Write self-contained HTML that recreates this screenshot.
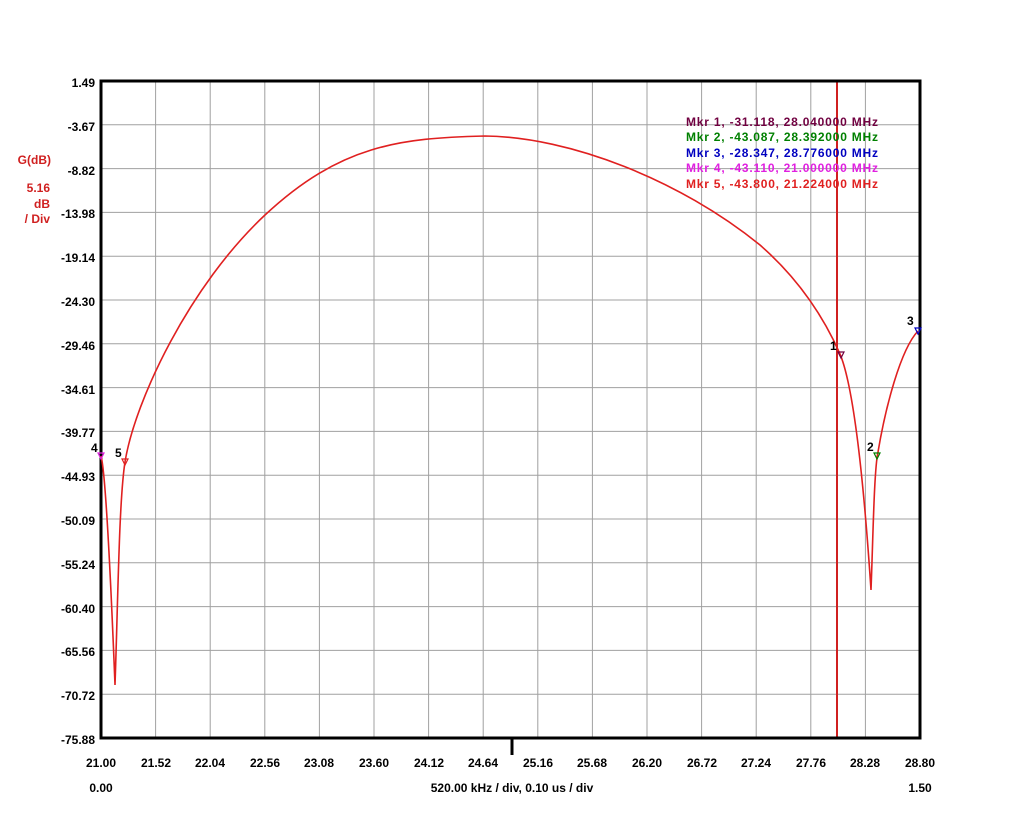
<!DOCTYPE html><html><head><style>body{margin:0;background:#fff}svg{display:block}text{font-family:"Liberation Sans",sans-serif;font-weight:bold;font-size:12px}</style></head><body>
<svg width="1024" height="821" xmlns="http://www.w3.org/2000/svg">
<g stroke="#a0a0a0" stroke-width="1">
<line x1="155.6" y1="81" x2="155.6" y2="738"/><line x1="210.2" y1="81" x2="210.2" y2="738"/><line x1="264.8" y1="81" x2="264.8" y2="738"/><line x1="319.4" y1="81" x2="319.4" y2="738"/><line x1="374" y1="81" x2="374" y2="738"/><line x1="428.6" y1="81" x2="428.6" y2="738"/><line x1="483.2" y1="81" x2="483.2" y2="738"/><line x1="537.8" y1="81" x2="537.8" y2="738"/><line x1="592.4" y1="81" x2="592.4" y2="738"/><line x1="647" y1="81" x2="647" y2="738"/><line x1="701.6" y1="81" x2="701.6" y2="738"/><line x1="756.2" y1="81" x2="756.2" y2="738"/><line x1="810.8" y1="81" x2="810.8" y2="738"/><line x1="865.4" y1="81" x2="865.4" y2="738"/>
<line x1="101" y1="124.8" x2="920" y2="124.8"/><line x1="101" y1="168.6" x2="920" y2="168.6"/><line x1="101" y1="212.4" x2="920" y2="212.4"/><line x1="101" y1="256.2" x2="920" y2="256.2"/><line x1="101" y1="300" x2="920" y2="300"/><line x1="101" y1="343.8" x2="920" y2="343.8"/><line x1="101" y1="387.6" x2="920" y2="387.6"/><line x1="101" y1="431.4" x2="920" y2="431.4"/><line x1="101" y1="475.2" x2="920" y2="475.2"/><line x1="101" y1="519" x2="920" y2="519"/><line x1="101" y1="562.8" x2="920" y2="562.8"/><line x1="101" y1="606.6" x2="920" y2="606.6"/><line x1="101" y1="650.4" x2="920" y2="650.4"/><line x1="101" y1="694.2" x2="920" y2="694.2"/>
</g>
<line x1="837" y1="81" x2="837" y2="738" stroke="#d02020" stroke-width="2"/>
<rect x="101" y="81" width="819" height="657" fill="none" stroke="#000" stroke-width="3"/>
<line x1="512" y1="738" x2="512" y2="755" stroke="#000" stroke-width="3"/>
<path fill="none" stroke="#e02020" stroke-width="1.6" d="M101,456 C105,470 110,560 115,685 C118,600 119,500 125,462 C135,400 190,285 265,215 C340,145 400,138 485,136 C570,137 680,180 760,245 C800,280 825,320 840,354 C855,390 865,500 871,590 C873,540 874,470 878,452 C885,410 900,350 918,331"/>
<g fill="none" stroke-width="1.2">
<path d="M838,352 l6,0 l-3,6z" stroke="#700040"/><path d="M874,453 l6,0 l-3,6z" stroke="#008000"/><path d="M915,328 l6,0 l-3,6z" stroke="#0000c0"/><path d="M98,453 l6,0 l-3,6z" stroke="#e020e0"/><path d="M122,459 l6,0 l-3,6z" stroke="#e02020"/>
</g>
<text x="830" y="350">1</text><text x="867" y="451">2</text><text x="907" y="325">3</text><text x="91" y="452">4</text><text x="115" y="457">5</text>
<g text-anchor="end">
<text x="95" y="87">1.49</text><text x="95" y="131">-3.67</text><text x="95" y="175">-8.82</text><text x="95" y="218">-13.98</text><text x="95" y="262">-19.14</text><text x="95" y="306">-24.30</text><text x="95" y="350">-29.46</text><text x="95" y="394">-34.61</text><text x="95" y="437">-39.77</text><text x="95" y="481">-44.93</text><text x="95" y="525">-50.09</text><text x="95" y="569">-55.24</text><text x="95" y="613">-60.40</text><text x="95" y="656">-65.56</text><text x="95" y="700">-70.72</text><text x="95" y="744">-75.88</text>
</g>
<g fill="#d02020" text-anchor="end"><text x="51" y="164">G(dB)</text><text x="50" y="192">5.16</text><text x="50" y="208">dB</text><text x="50" y="223">/ Div</text></g>
<g text-anchor="middle">
<text x="101" y="767">21.00</text><text x="156" y="767">21.52</text><text x="210" y="767">22.04</text><text x="265" y="767">22.56</text><text x="319" y="767">23.08</text><text x="374" y="767">23.60</text><text x="429" y="767">24.12</text><text x="483" y="767">24.64</text><text x="538" y="767">25.16</text><text x="592" y="767">25.68</text><text x="647" y="767">26.20</text><text x="702" y="767">26.72</text><text x="756" y="767">27.24</text><text x="811" y="767">27.76</text><text x="865" y="767">28.28</text><text x="920" y="767">28.80</text>
<text x="101" y="792">0.00</text><text x="920" y="792">1.50</text><text x="512" y="792">520.00 kHz / div, 0.10 us / div</text>
</g>
<g font-size="13">
<text x="686" y="126" fill="#700040" textLength="192">Mkr 1, -31.118, 28.040000 MHz</text>
<text x="686" y="141" fill="#008000" textLength="192">Mkr 2, -43.087, 28.392000 MHz</text>
<text x="686" y="157" fill="#0000c0" textLength="192">Mkr 3, -28.347, 28.776000 MHz</text>
<text x="686" y="172" fill="#e020e0" textLength="192">Mkr 4, -43.110, 21.000000 MHz</text>
<text x="686" y="188" fill="#e02020" textLength="192">Mkr 5, -43.800, 21.224000 MHz</text>
</g>
</svg></body></html>
